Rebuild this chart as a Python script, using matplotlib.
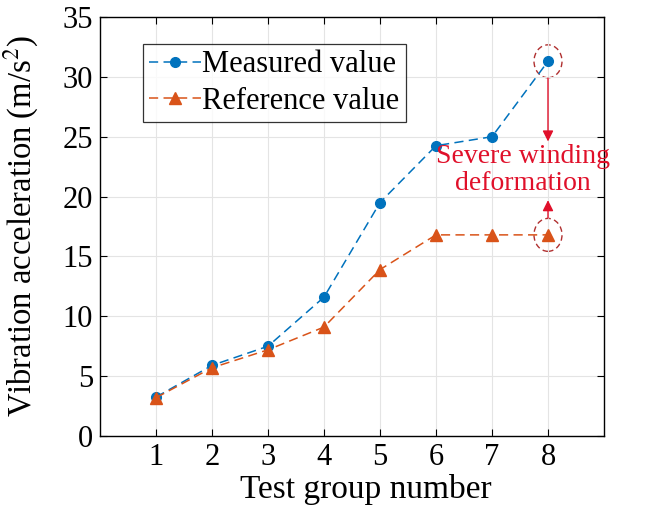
import matplotlib
matplotlib.use("Agg")
import matplotlib.pyplot as plt
from matplotlib.patches import Ellipse

groups = [1, 2, 3, 4, 5, 6, 7, 8]
measured = [3.25, 5.9, 7.5, 11.6, 19.5, 24.25, 25.0, 31.3]
reference = [3.2, 5.7, 7.2, 9.1, 13.9, 16.8, 16.8, 16.8]
yticks = [0, 5, 10, 15, 20, 25, 30, 35]

plt.rcParams['font.family'] = ['Liberation Serif', 'DejaVu Serif']
plt.rcParams['mathtext.fontset'] = 'stix'

fig = plt.figure(figsize=(6.56, 5.08), dpi=100)
ax = fig.add_axes([100/656, 1-436/508, 504/656, 419/508])

blue = '#0072BD'
orange = '#D95319'
ax.plot(groups, measured, '--o', color=blue, markersize=7, lw=1.1,
        dashes=(6, 3.5), label='Measured value')
ax.plot(groups, reference, '--^', color=orange, markersize=8, lw=1.1,
        dashes=(6, 3.5), label='Reference value')

ax.set_xlim(0, 9)
ax.set_ylim(0, 35)
ax.set_xticks(groups)
ax.set_yticks(yticks)
ax.tick_params(direction='in', top=True, right=True, labelsize=22, length=5, width=0.8, pad=5)
ax.grid(True, color='#e4e4e4', lw=0.8, linestyle='-')
for s in ax.spines.values():
    s.set_linewidth(1.0)

ax.set_xlabel('Test group number', fontsize=24)
ax.set_ylabel('Vibration acceleration (m/s$^2$)', fontsize=23.5)
ax.xaxis.set_label_coords(0.528, -0.09)
ax.yaxis.set_label_coords(-0.118, 0.5)

leg = ax.legend(loc='upper left', bbox_to_anchor=(0.085, 0.935), fontsize=22,
                frameon=True, fancybox=False, edgecolor='black',
                handlelength=1.7, handletextpad=0.05, borderpad=0.2,
                labelspacing=0.25, borderaxespad=0)
leg.get_frame().set_linewidth(0.9)

red = '#E0102A'
circ_col = '#B03030'
for yv in (measured[7], reference[7]):
    e = Ellipse((8, yv), width=0.5, height=2.75, fill=False, ec=circ_col,
                ls=(0, (4, 2.5)), lw=1.0)
    ax.add_patch(e)

ax.annotate('', xy=(8, 24.6), xytext=(8, 29.9),
            arrowprops=dict(arrowstyle='-|>', color=red, lw=1.0,
                            mutation_scale=16, shrinkA=0, shrinkB=0))
ax.annotate('', xy=(8, 19.7), xytext=(8, 18.2),
            arrowprops=dict(arrowstyle='-|>', color=red, lw=1.0,
                            mutation_scale=16, shrinkA=0, shrinkB=0))
ax.text(7.55, 22.2, 'Severe winding\ndeformation', color=red, fontsize=20,
        ha='center', va='center', linespacing=1.1)

fig.savefig('out.png', dpi=100)
